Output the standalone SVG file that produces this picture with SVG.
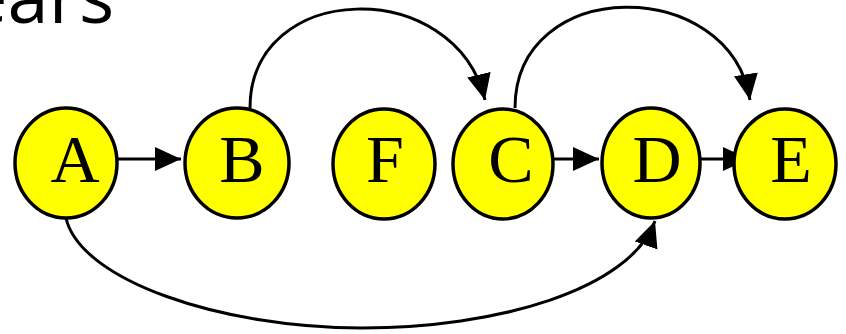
<svg xmlns="http://www.w3.org/2000/svg" width="846" height="334" viewBox="0 0 846 334">
<defs>
<style>
.node ellipse{fill:#ffff00;stroke:#000;stroke-width:3.5}
.node text{font-family:"Liberation Serif","Times New Roman",serif;font-size:68px;fill:#000;text-anchor:middle}
.edge{fill:none;stroke:#000;stroke-width:3}
.title{font-family:"Open Sans","Liberation Sans",sans-serif;font-size:74px;fill:#000}
</style>
<marker id="arr" markerUnits="userSpaceOnUse" markerWidth="28" markerHeight="26" refX="26" refY="12" orient="auto">
<path d="M0,0 L26,12 L0,24 z" fill="#000"/>
</marker>
</defs>
<rect width="846" height="334" fill="#fff"/>
<text class="title" x="-34" y="23">ears</text>
<g id="connectors">
<path class="edge" d="M117,159 L181,159" marker-end="url(#arr)"/>
<path class="edge" d="M553,159 L599,159" marker-end="url(#arr)"/>
<path class="edge" d="M700,159 L749,159" marker-end="url(#arr)"/>
<path class="edge" d="M250,108 C250,-20 455,-25 485,100" marker-end="url(#arr)"/>
<path class="edge" d="M515,108 C515,-25 730,-25 750,100" marker-end="url(#arr)"/>
<path class="edge" d="M66,218 C80,280 220,328 362,328 C496,328 630,290 655,221" marker-end="url(#arr)"/>
</g>
<g id="node-A" class="node"><ellipse cx="66" cy="163" rx="51" ry="55"/><text x="75" y="182">A</text></g>
<g id="node-B" class="node"><ellipse cx="237" cy="163" rx="52" ry="55"/><text x="242" y="182">B</text></g>
<g id="node-F" class="node"><ellipse cx="384" cy="164" rx="51" ry="55"/><text x="385" y="182">F</text></g>
<g id="node-C" class="node"><ellipse cx="503" cy="164" rx="50" ry="55"/><text x="511" y="182">C</text></g>
<g id="node-D" class="node"><ellipse cx="651" cy="163" rx="49" ry="55"/><text x="657" y="182">D</text></g>
<g id="node-E" class="node"><ellipse cx="785" cy="164" rx="51" ry="55"/><text x="791" y="182">E</text></g>
</svg>
